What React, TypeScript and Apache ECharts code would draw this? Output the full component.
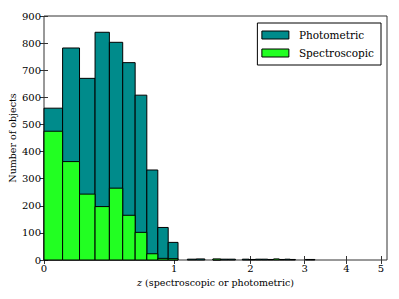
import React, { useEffect, useRef } from "react";
import * as echarts from "echarts";

// Histogram bins in redshift z (50 bins from 0 to 5.2, width 0.104)
const binWidth = 0.104;
// Photometric counts per bin
const photometric = [
  560, 782, 670, 840, 803, 728, 608, 332, 120, 65,
  0, 3, 4, 0, 2, 3, 3, 0, 3, 2,
  3, 3, 2, 0, 2, 3, 2, 0, 0, 2,
  2, 0, 0, 0, 0, 0, 0, 0, 0, 0,
  0, 0, 0, 0, 0, 0, 0, 0, 0, 0,
];
// Spectroscopic counts per bin
const spectroscopic = [
  475, 363, 243, 197, 265, 165, 102, 23, 6, 5,
  0, 0, 0, 0, 4, 0, 0, 0, 0, 0,
  0, 0, 0, 4, 0, 0, 0, 0, 0, 0,
  0, 0, 0, 0, 0, 0, 0, 0, 0, 0,
  0, 0, 0, 0, 0, 0, 0, 0, 0, 0,
];
const xTickLabels = [0, 1, 2, 3, 4, 5];
const yMax = 900;
const yStep = 100;
const zMax = 5.2;

const toAxis = (z: number) => Math.log10(1 + z);

const buildData = (counts: number[]) =>
  counts
    .map((c, i) => [toAxis(i * binWidth), toAxis((i + 1) * binWidth), c])
    .filter((d) => d[2] > 0);

const serif = "DejaVu Serif";

export default function App() {
  const ref = useRef<HTMLDivElement>(null);
  useEffect(() => {
    if (!ref.current) return;
    const chart = echarts.init(ref.current, undefined, { renderer: "svg" });
    const tickVals = xTickLabels.map(toAxis);
    const makeRender = (fill: string) => (params: any, api: any) => {
      const p0 = api.coord([api.value(0), api.value(2)]);
      const p1 = api.coord([api.value(1), 0]);
      return {
        type: "rect",
        shape: { x: p0[0], y: p0[1], width: p1[0] - p0[0], height: p1[1] - p0[1] },
        style: { fill, stroke: "#000", lineWidth: 1 },
      };
    };
    const xCommon = {
      type: "value",
      min: 0,
      max: toAxis(zMax),
      splitLine: { show: false },
      axisLine: { show: false },
    };
    const yCommon = {
      type: "value",
      min: 0,
      max: yMax,
      interval: yStep,
      splitLine: { show: false },
      axisLine: { show: false },
    };
    chart.setOption({
      animation: false,
      textStyle: { fontFamily: serif },
      grid: {
        left: 44,
        right: 12,
        top: 16,
        bottom: 39,
        containLabel: false,
        outerBoundsMode: "none",
        show: true,
        borderColor: "#333",
        borderWidth: 1,
        backgroundColor: "transparent",
      },
      legend: {
        orient: "vertical",
        right: 18,
        top: 23,
        itemWidth: 27,
        itemHeight: 8,
        itemGap: 6,
        padding: [6, 7, 6, 4],
        borderColor: "#000",
        borderWidth: 1,
        backgroundColor: "#fff",
        icon: "rect",
        textStyle: { fontFamily: serif, fontSize: 10.5, lineHeight: 12, color: "#000", padding: [0, 0, 0, 5] },
        data: [
          { name: "Photometric", itemStyle: { color: "#008b8b", borderColor: "#000", borderWidth: 1 } },
          { name: "Spectroscopic", itemStyle: { color: "#22ff22", borderColor: "#000", borderWidth: 1 } },
        ],
      },
      xAxis: [
        {
          ...xCommon,
          position: "bottom",
          name: "{i|z} (spectroscopic or photometric)",
          nameLocation: "middle",
          nameGap: 17,
          nameMoveOverlap: false,
          nameTextStyle: {
            fontFamily: serif,
            fontSize: 9.5,
            color: "#000",
            rich: { i: { fontStyle: "italic", fontFamily: serif, fontSize: 9.5, color: "#000" } },
          },
          axisTick: { show: true, inside: true, length: 4, customValues: tickVals, lineStyle: { color: "#333" } },
          axisLabel: {
            customValues: tickVals,
            formatter: (v: number) => String(Math.round(Math.pow(10, v) - 1)),
            fontSize: 10,
            color: "#000",
            fontFamily: serif,
            margin: 3,
          },
        },
        {
          ...xCommon,
          position: "top",
          axisTick: { show: true, inside: true, length: 4, customValues: tickVals, lineStyle: { color: "#333" } },
          axisLabel: { show: false },
        },
      ],
      yAxis: [
        {
          ...yCommon,
          position: "left",
          name: "Number of objects",
          nameLocation: "middle",
          nameGap: 27,
          nameMoveOverlap: false,
          nameTextStyle: { fontFamily: serif, fontSize: 9.5, color: "#000" },
          axisTick: { show: true, inside: true, length: 4, lineStyle: { color: "#333" } },
          axisLabel: { fontSize: 10, color: "#000", fontFamily: serif, margin: 3 },
        },
        {
          ...yCommon,
          position: "right",
          axisTick: { show: true, inside: true, length: 4, lineStyle: { color: "#333" } },
          axisLabel: { show: false },
        },
      ],
      series: [
        {
          name: "Photometric",
          type: "custom",
          renderItem: makeRender("#008b8b"),
          encode: { x: [0, 1], y: 2 },
          data: buildData(photometric),
          itemStyle: { color: "#008b8b" },
        },
        {
          name: "Spectroscopic",
          type: "custom",
          renderItem: makeRender("#22ff22"),
          encode: { x: [0, 1], y: 2 },
          data: buildData(spectroscopic),
          itemStyle: { color: "#22ff22" },
        },
      ],
    });
    return () => chart.dispose();
  }, []);
  return (
    <div
      ref={ref}
      style={{ position: "fixed", left: 0, top: 0, width: 399, height: 299, background: "#fff" }}
    />
  );
}
